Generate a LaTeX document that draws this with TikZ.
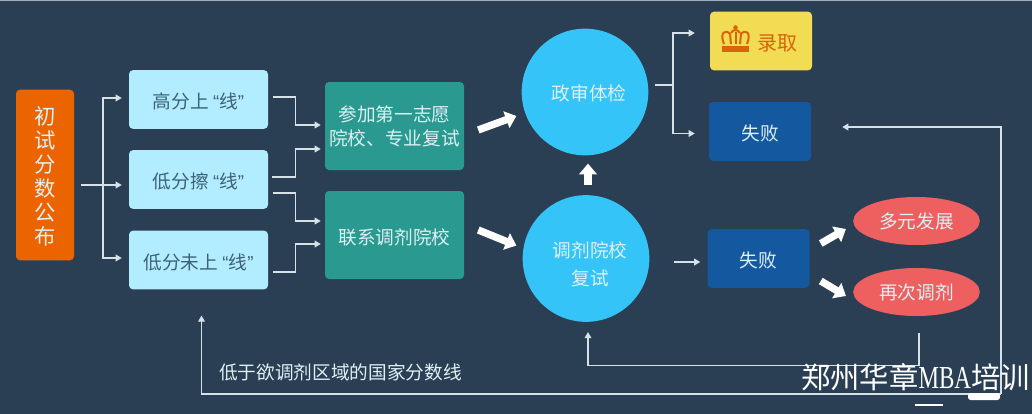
\documentclass[tikz,border=0pt]{standalone}
\usepackage{fontspec}
\setmainfont{Noto Sans CJK SC}
\newfontfamily\latinq{Liberation Sans}
\newfontfamily\wmlatin{Liberation Serif}
\usetikzlibrary{arrows.meta,calc,shapes.geometric}
\definecolor{bg}{HTML}{2B3F54}
\definecolor{orangebox}{HTML}{EC6400}
\definecolor{cyanbox}{HTML}{B2EDFF}
\definecolor{tealbox}{HTML}{2A9A90}
\definecolor{circ}{HTML}{35C4F7}
\definecolor{bluebox}{HTML}{14599F}
\definecolor{redell}{HTML}{EE5F60}
\definecolor{yellowbox}{HTML}{F2DC54}
\definecolor{darktext}{HTML}{3D6176}
\definecolor{lighttext}{HTML}{DDF0F4}
\definecolor{linecol}{HTML}{D5E2E8}
\definecolor{crown}{HTML}{D9640A}
\newcommand{\qq}[1]{{\latinq “}#1{\latinq ”}}
\newcommand{\dn}[1]{\raisebox{-7pt}[0pt][0pt]{#1}}
\newcommand{\cshift}[2]{\hspace*{6pt}\raisebox{#1}[0pt][0pt]{\begin{tabular}{@{}c@{}}#2\end{tabular}}}
\tikzset{
  x=0.75pt,y=-0.75pt,
  basebox/.style={rounded corners=3pt,inner sep=0pt,align=center,font=\fontsize{14}{18}\selectfont},
  cyanstyle/.style={basebox,fill=cyanbox,text=darktext,minimum width=104.25pt,minimum height=44pt},
  tealstyle/.style={basebox,fill=tealbox,text=lighttext,minimum width=104.25pt,minimum height=66pt},
  bluestyle/.style={basebox,fill=bluebox,text=lighttext,minimum width=76.5pt,minimum height=44pt},
  circstyle/.style={circle,fill=circ,text=lighttext,inner sep=0pt,align=center,minimum size=95pt,font=\fontsize{14}{20}\selectfont},
  ellstyle/.style={ellipse,fill=redell,text=lighttext,inner sep=0pt,minimum width=95pt,minimum height=36pt,font=\fontsize{14}{18}\selectfont},
  thinline/.style={draw=linecol,line width=0.9pt,-{Triangle[length=4.5pt,width=5pt]}},
  thinplain/.style={draw=linecol,line width=0.9pt},
  blockarrow/.style={draw=white,line width=5.5pt,-{Triangle[length=8pt,width=13pt]}},
}
\begin{document}
\begin{tikzpicture}
\useasboundingbox (0,0) rectangle (1032,414);
\fill[bg] (0,0) rectangle (1032,414);
\draw[draw=linecol!70!bg,line width=0.8pt] (0,0.5) -- (1032,0.5);

\node[basebox,fill=orangebox,text=lighttext,minimum width=43.5pt,minimum height=128pt,font=\fontsize{16}{18}\selectfont] (start) at (45,175) {\rule{0pt}{15pt}初\\试\\分\\数\\公\\布};
\node[cyanstyle] (a) at (198.5,99.5) {\dn{高分上 \qq{线}}};
\node[cyanstyle] (b) at (198.5,179.5) {\dn{低分擦 \qq{线}}};
\node[cyanstyle] (c) at (198.5,260) {\dn{低分未上 \qq{线}}};
\node[tealstyle] (d) at (394.5,126) {\rule{0pt}{13pt}参加第一志愿\\院校、专业复试};
\node[tealstyle] (e) at (394.5,235) {\dn{联系调剂院校}};
\node[circstyle] (f) at (585,92) {\cshift{-5.75pt}{政审体检}};
\node[circstyle] (g) at (586,258.5) {\cshift{-9.5pt}{调剂院校\\[1pt]复试}};
\node[basebox,fill=yellowbox,text=crown,minimum width=76.5pt,minimum height=44pt,font=\fontsize{15}{18}\selectfont] (h) at (761,41) {\hspace*{24pt}\dn{录取}};
\node[bluestyle] (i) at (760,131.5) {\dn{失败}};
\node[bluestyle] (j) at (758.5,258.5) {\dn{失败}};
\node[ellstyle] (k) at (916.5,221) {多元发展};
\node[ellstyle] (l) at (916.5,292) {再次调剂};

% crown icon
\fill[crown] (722,46) -- (749,46) -- (749,52) -- (722,52) -- cycle;
\draw[crown,line width=1.5pt,line join=round] (724,44) .. controls (719,32) and (726,29) .. (730,34) -- (731,44);
\draw[crown,line width=1.5pt,line join=round] (747,44) .. controls (752,32) and (745,29) .. (741,34) -- (740,44);
\draw[crown,line width=1.5pt,line join=round] (731,33) .. controls (733,29) and (738,29) .. (740,33);
\draw[crown,line width=1.5pt] (735.5,32) -- (735.5,44);
\fill[crown] (735.5,27.5) circle (1.7pt);

% first column
\draw[thinline] ($(start.east)+(7,10)$) -- ($(b.west)+(-7,5.5)$);
\draw[thinline] (103,185) |- ($(a.west)+(-7,-1.5)$);
\draw[thinline] (103,185) |- ($(c.west)+(-7,-2)$);

% to teal boxes
\draw[thinline] ($(a.east)+(5,-2.5)$) -- ++(22,0) |- ($(d.west)+(-4,-1)$);
\draw[thinline] ($(b.east)+(4,-2.5)$) -- ++(23,0) |- ($(d.west)+(-4,23)$);
\draw[thinline] ($(b.east)+(5,13.5)$) -- ++(22,0) |- ($(e.west)+(-4,-14)$);
\draw[thinline] ($(c.east)+(5,12)$) -- ++(22,0) |- ($(e.west)+(-4,9)$);

% block arrows
\draw[blockarrow] ($(d.east)+(14,4)$) -- ($(f.west)+(-5,24)$);
\draw[blockarrow] ($(e.east)+(14,-5)$) -- ($(g.west)+(-6,-13)$);
\draw[blockarrow] ($(g.north)+(2,-10)$) -- ($(f.south)+(3,8)$);
\draw[blockarrow] ($(j.east)+(11,-15)$) -- ($(k.west)+(-7,8)$);
\draw[blockarrow] ($(j.east)+(11,22.5)$) -- ($(l.west)+(-7,4)$);

% from upper circle
\draw[thinplain] ($(f.east)+(6,-7)$) -- (673,85);
\draw[thinline] (673,85) |- ($(h.west)+(-15,-8)$);
\draw[thinline] (673,85) |- ($(i.west)+(-14,2)$);

\draw[thinline] ($(g.east)+(24,3.5)$) -- ($(j.west)+(-7,3.5)$);

% feedback lines
\draw[thinline] ($(l.south)+(2.5,17)$) -- ++(0,32) -| ($(g.south)+(2,10)$);
\coordinate (loopcorner) at (1001,394);
\draw[thinline] (loopcorner) |- ($(i.east)+(31,-4.5)$);
\draw[thinline] (loopcorner) -| ($(c.south)+(3,26)$);

\node[text=lighttext,inner sep=0pt,font=\fontsize{14}{18}\selectfont] (note) at (340.5,372) {低于欲调剂区域的国家分数线};

% watermark remnants
\fill[white,rounded corners=2pt] (968,393) rectangle (1000,400);
\draw[white,line width=0.8pt] (915,405) -- (943,405);
\node[text=white,inner sep=0pt,anchor=west,font=\fontsize{22}{24}\selectfont] (wm) at (801,377) {郑州华章{\wmlatin\fontsize{24}{24}\selectfont\addfontfeature{FakeStretch=0.72}MBA}培训};
\end{tikzpicture}
\end{document}
